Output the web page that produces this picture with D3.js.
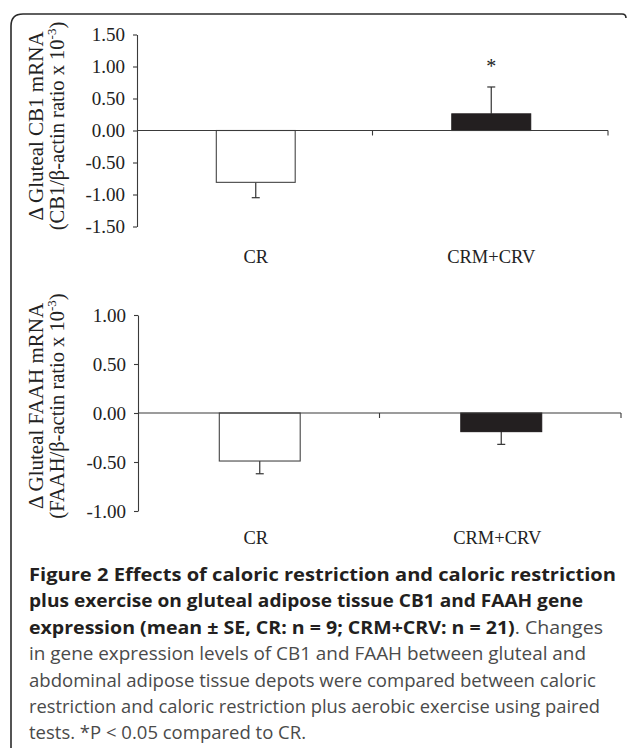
<!DOCTYPE html>
<html>
<head>
<meta charset="utf-8">
<script src="https://cdn.jsdelivr.net/npm/d3@7/dist/d3.min.js"></script>
<style>
  html, body { margin: 0; padding: 0; background: #fff; }
  svg { display: block; }
</style>
</head>
<body>
<svg id="chart" width="628" height="748"></svg>
<script>
// ---- data ----
const categories = ["CR", "CRM+CRV"];
const cb1Values = [-0.81, 0.26];
const cb1Errors = [0.24, 0.42];
const cb1Ticks = [1.5, 1.0, 0.5, 0.0, -0.5, -1.0, -1.5];
const faahValues = [-0.49, -0.19];
const faahErrors = [0.13, 0.13];
const faahTicks = [1.0, 0.5, 0.0, -0.5, -1.0];
const significance = ["", "*"];

const captionBold1 = "Figure 2 Effects of caloric restriction and caloric restriction";
const captionBold2 = "plus exercise on gluteal adipose tissue CB1 and FAAH gene";
const captionBold3 = "expression (mean \u00b1 SE, CR: n = 9; CRM+CRV: n = 21)";
const captionRest3 = ". Changes";
const captionLines = [
  "in gene expression levels of CB1 and FAAH between gluteal and",
  "abdominal adipose tissue depots were compared between caloric",
  "restriction and caloric restriction plus aerobic exercise using paired",
  "tests. *P < 0.05 compared to CR."
];

const svg = d3.select("#chart");
const serif = "'Liberation Serif', 'Times New Roman', serif";
const sans = "'Open Sans', 'Noto Sans', sans-serif";
const axisColor = "#3a3a3a";
const textColor = "#222";

// ---- frame ----
svg.append("path")
  .attr("d", "M626,18 Q626,14 622,14 L23,14 Q11,14 11,26 L11,748")
  .attr("fill", "none").attr("stroke", "#2b2b2b").attr("stroke-width", 1.6);

function drawPanel(cfg) {
  const g = svg.append("g");
  const y = d3.scaleLinear().domain([cfg.ticks[cfg.ticks.length - 1], cfg.ticks[0]]).range(cfg.yRange);
  const x = d3.scaleBand().domain(categories).range(cfg.xRange).paddingInner(0).paddingOuter(0);
  const bw = x.bandwidth() * 0.335;

  // y axis
  const ya = g.append("g").attr("transform", `translate(${cfg.xRange[0]},0)`)
    .call(d3.axisLeft(y).tickValues(cfg.ticks).tickSize(4).tickSizeOuter(0).tickPadding(8)
      .tickFormat(d => d.toFixed(2)));
  ya.select(".domain").attr("stroke", axisColor).attr("stroke-width", 1.1);
  ya.selectAll(".tick line").attr("stroke", axisColor).attr("stroke-width", 1.1);
  ya.selectAll(".tick text").attr("font-family", serif).attr("font-size", 19).attr("fill", textColor);

  // bars
  const data = categories.map((c, i) => ({ c, v: cfg.values[i], e: cfg.errors[i], i }));
  // error bars (one-sided, outward)
  data.forEach(d => {
    const cx = x(d.c) + x.bandwidth() / 2 + cfg.barShift;
    const end = d.v >= 0 ? d.v + d.e : d.v - d.e;
    g.append("line").attr("x1", cx).attr("x2", cx).attr("y1", y(d.v)).attr("y2", y(end))
      .attr("stroke", "#333").attr("stroke-width", 1.2);
    g.append("line").attr("x1", cx - 4).attr("x2", cx + 4).attr("y1", y(end)).attr("y2", y(end))
      .attr("stroke", "#333").attr("stroke-width", 1.2);
  });
  g.selectAll("rect.bar").data(data).enter().append("rect")
    .attr("class", "bar")
    .attr("x", d => x(d.c) + x.bandwidth() / 2 + cfg.barShift - bw / 2)
    .attr("width", bw)
    .attr("y", d => Math.min(y(d.v), y(0)))
    .attr("height", d => Math.abs(y(d.v) - y(0)))
    .attr("fill", d => d.i === 0 ? "#fff" : "#231f20")
    .attr("stroke", d => d.i === 0 ? "#444" : "#231f20")
    .attr("stroke-width", 1.1);

  // x axis (zero line) with category boundary ticks
  g.append("line").attr("x1", cfg.xRange[0]).attr("x2", cfg.xRange[1])
    .attr("y1", y(0)).attr("y2", y(0)).attr("stroke", axisColor).attr("stroke-width", 1.1);
  categories.forEach(c => {
    const xb = x(c) + x.bandwidth();
    g.append("line").attr("x1", xb).attr("x2", xb).attr("y1", y(0)).attr("y2", y(0) + 5)
      .attr("stroke", axisColor).attr("stroke-width", 1.1);
  });

  // category labels
  categories.forEach((c, i) => {
    g.append("text").attr("x", x(c) + x.bandwidth() / 2 + cfg.labelShift).attr("y", cfg.labelY)
      .attr("text-anchor", "middle").attr("font-family", serif).attr("font-size", 18.5)
      .attr("fill", textColor).text(c);
  });

  // significance markers
  if (cfg.sig) {
    data.forEach(d => {
      if (!significance[d.i]) return;
      const cx = x(d.c) + x.bandwidth() / 2 + cfg.barShift;
      g.append("text").attr("x", cx).attr("y", y(d.v + d.e) - 14)
        .attr("text-anchor", "middle").attr("font-family", serif).attr("font-size", 20)
        .attr("fill", textColor).text(significance[d.i]);
    });
  }

  // y axis title (two lines, rotated)
  g.append("text").attr("transform", `translate(43,${cfg.titleY}) rotate(-90)`)
    .attr("text-anchor", "middle").attr("font-family", serif).attr("font-size", 21).attr("fill", textColor)
    .text(cfg.title1);
  const t2 = g.append("text").attr("transform", `translate(64,${cfg.titleY}) rotate(-90)`)
    .attr("text-anchor", "middle").attr("font-family", serif).attr("font-size", 20.5).attr("fill", textColor);
  t2.append("tspan").text(cfg.title2a);
  t2.append("tspan").attr("font-size", 13).attr("dy", -8).text("-3");
  t2.append("tspan").attr("dy", 8).text(")");
}

drawPanel({
  values: cb1Values, errors: cb1Errors, ticks: cb1Ticks,
  yRange: [226.5, 34.5], xRange: [137, 608], barShift: 1, labelShift: 1, labelY: 263,
  sig: true, titleY: 126,
  title1: "\u0394 Gluteal CB1 mRNA", title2a: "(CB1/\u03b2-actin ratio x 10"
});

drawPanel({
  values: faahValues, errors: faahErrors, ticks: faahTicks,
  yRange: [511, 315], xRange: [138, 621], barShift: 1, labelShift: -3, labelY: 544,
  sig: false, titleY: 406,
  title1: "\u0394 Gluteal FAAH mRNA", title2a: "(FAAH/\u03b2-actin ratio x 10"
});

// ---- caption ----
const capX = 29, capY0 = 581, capDy = 26.4;
const cap = svg.append("g").attr("font-family", sans).attr("font-size", 17.5);
cap.append("text").attr("x", capX).attr("y", capY0).attr("font-weight", 700).attr("fill", "#231f20")
  .attr("textLength", 587).attr("lengthAdjust", "spacingAndGlyphs").text(captionBold1);
cap.append("text").attr("x", capX).attr("y", capY0 + capDy).attr("font-weight", 700).attr("fill", "#231f20")
  .attr("textLength", 554).attr("lengthAdjust", "spacingAndGlyphs").text(captionBold2);
const l3 = cap.append("text").attr("x", capX).attr("y", capY0 + 2 * capDy)
  .attr("textLength", 574).attr("lengthAdjust", "spacingAndGlyphs");
l3.append("tspan").attr("font-weight", 700).attr("fill", "#231f20").text(captionBold3);
l3.append("tspan").attr("fill", "#4a4a4a").text(captionRest3);
const ends = [586, 596, 600, 306];
captionLines.forEach((s, i) => {
  cap.append("text").attr("x", capX).attr("y", capY0 + (3 + i) * capDy).attr("fill", "#4a4a4a")
    .attr("textLength", ends[i] - capX).attr("lengthAdjust", "spacingAndGlyphs").text(s);
});
</script>
</body>
</html>
